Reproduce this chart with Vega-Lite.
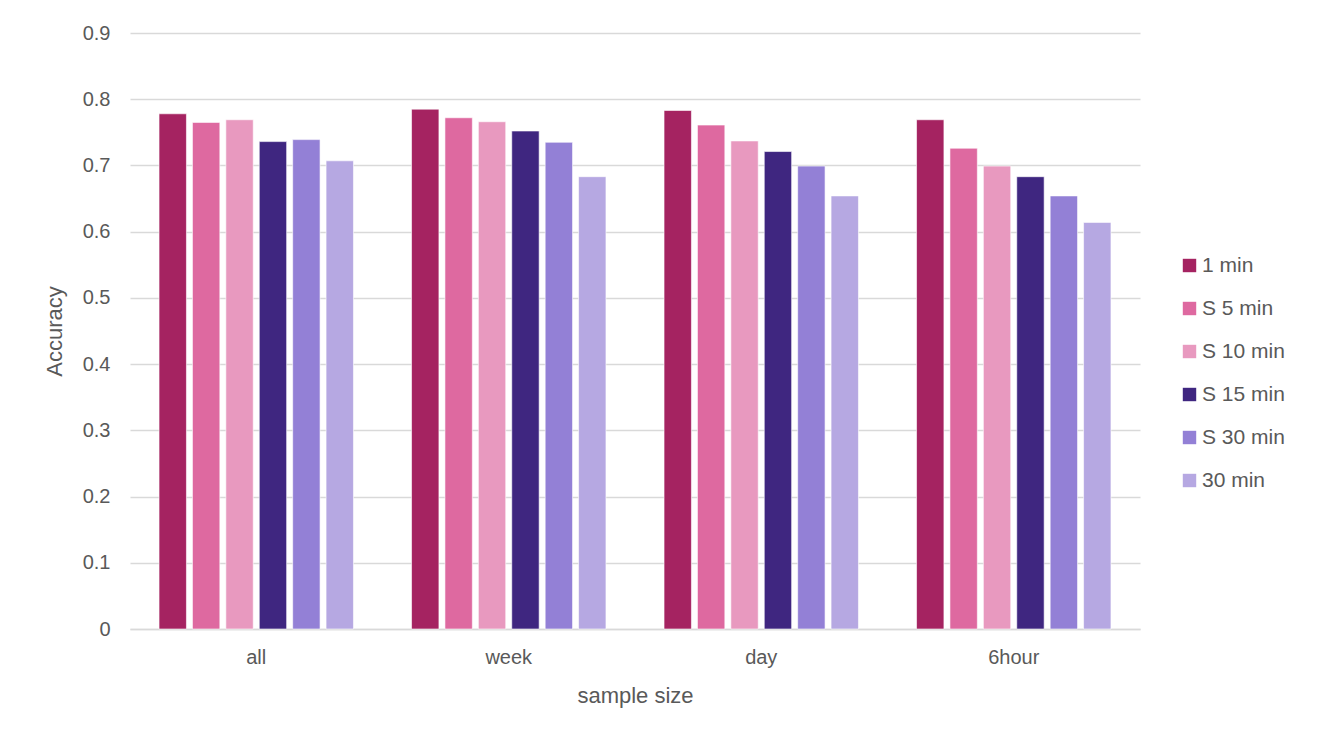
{
  "$schema": "https://vega.github.io/schema/vega-lite/v6.json",
  "autosize": {"type": "none"},
  "padding": {"left": 130, "top": 33, "right": 182, "bottom": 113},
  "width": 1010,
  "height": 596,
  "background": "white",
  "config": {
    "font": "Liberation Sans",
    "view": {"stroke": null},
    "axis": {"labelColor": "#595959", "titleColor": "#595959", "labelFont": "Liberation Sans", "titleFont": "Liberation Sans", "titleFontWeight": "normal"}
  },
  "data": {
    "values": [
      {"group": "all", "series": "1 min", "acc": 0.778},
      {"group": "all", "series": "S 5 min", "acc": 0.765},
      {"group": "all", "series": "S 10 min", "acc": 0.769},
      {"group": "all", "series": "S 15 min", "acc": 0.736},
      {"group": "all", "series": "S 30 min", "acc": 0.739},
      {"group": "all", "series": "30 min", "acc": 0.707},
      {"group": "week", "series": "1 min", "acc": 0.785},
      {"group": "week", "series": "S 5 min", "acc": 0.772},
      {"group": "week", "series": "S 10 min", "acc": 0.766},
      {"group": "week", "series": "S 15 min", "acc": 0.752},
      {"group": "week", "series": "S 30 min", "acc": 0.735},
      {"group": "week", "series": "30 min", "acc": 0.683},
      {"group": "day", "series": "1 min", "acc": 0.783},
      {"group": "day", "series": "S 5 min", "acc": 0.761},
      {"group": "day", "series": "S 10 min", "acc": 0.737},
      {"group": "day", "series": "S 15 min", "acc": 0.721},
      {"group": "day", "series": "S 30 min", "acc": 0.699},
      {"group": "day", "series": "30 min", "acc": 0.654},
      {"group": "6hour", "series": "1 min", "acc": 0.769},
      {"group": "6hour", "series": "S 5 min", "acc": 0.726},
      {"group": "6hour", "series": "S 10 min", "acc": 0.699},
      {"group": "6hour", "series": "S 15 min", "acc": 0.683},
      {"group": "6hour", "series": "S 30 min", "acc": 0.654},
      {"group": "6hour", "series": "30 min", "acc": 0.614}
    ]
  },
  "mark": {"type": "bar", "stroke": "white", "strokeWidth": 1, "strokeOpacity": 0.6},
  "encoding": {
    "x": {
      "field": "group", "type": "nominal",
      "sort": ["all", "week", "day", "6hour"],
      "scale": {"paddingInner": 0.23, "paddingOuter": 0.115},
      "axis": {
        "title": "sample size", "titleFontSize": 22, "titlePadding": 18,
        "labelAngle": 0, "labelFontSize": 20, "labelPadding": 18,
        "ticks": false, "domainColor": "#d9d9d9", "domainWidth": 1.3, "grid": false
      }
    },
    "xOffset": {
      "field": "series", "type": "nominal",
      "sort": ["1 min", "S 5 min", "S 10 min", "S 15 min", "S 30 min", "30 min"],
      "scale": {"paddingInner": 0.18, "paddingOuter": 0}
    },
    "y": {
      "field": "acc", "type": "quantitative",
      "scale": {"domain": [0, 0.9], "nice": false},
      "axis": {
        "title": "Accuracy", "titleFontSize": 22, "titlePadding": 16,
        "values": [0, 0.1, 0.2, 0.3, 0.4, 0.5, 0.6, 0.7, 0.8, 0.9],
        "labelExpr": "datum.value == 0 ? '0' : format(datum.value, '.1f')",
        "labelFontSize": 20, "labelPadding": 20,
        "ticks": false, "domain": false,
        "gridColor": "#d9d9d9", "gridWidth": 1.3
      }
    },
    "color": {
      "field": "series", "type": "nominal",
      "sort": ["1 min", "S 5 min", "S 10 min", "S 15 min", "S 30 min", "30 min"],
      "scale": {
        "domain": ["1 min", "S 5 min", "S 10 min", "S 15 min", "S 30 min", "30 min"],
        "range": ["#a52361", "#de69a0", "#e899bf", "#3f2680", "#9380d6", "#b6a8e2"]
      },
      "legend": {
        "title": null, "orient": "none", "legendX": 1049, "legendY": 222,
        "symbolType": "square", "symbolSize": 180, "symbolStrokeWidth": 0,
        "labelFontSize": 21, "labelColor": "#595959", "labelFont": "Liberation Sans",
        "rowPadding": 21, "labelOffset": 2
      }
    }
  }
}
